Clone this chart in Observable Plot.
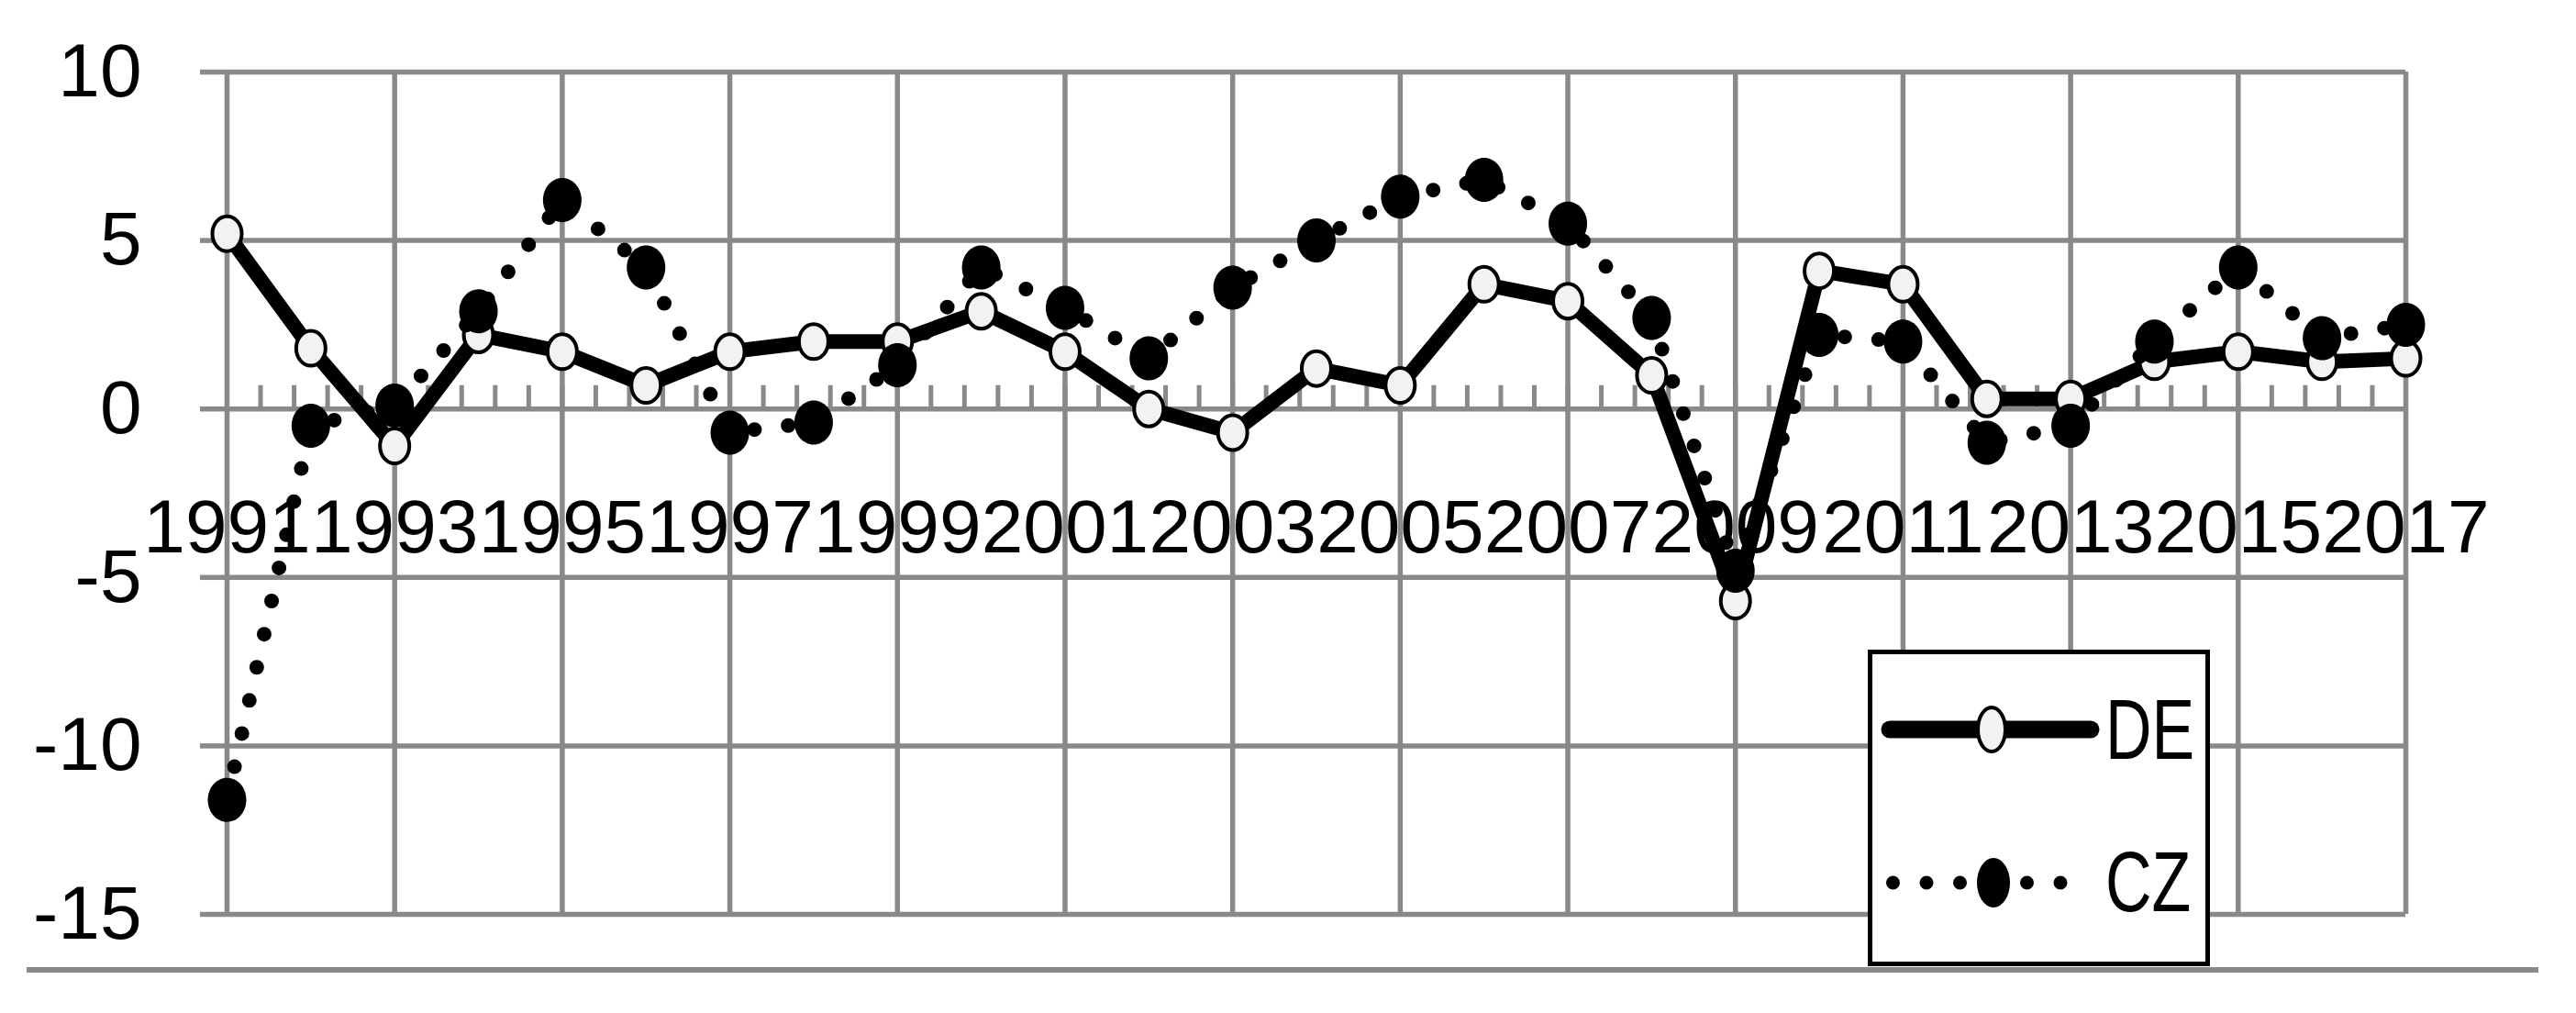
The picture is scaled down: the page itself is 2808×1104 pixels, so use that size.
<!DOCTYPE html>
<html>
<head>
<meta charset="utf-8">
<script src="https://cdn.jsdelivr.net/npm/d3@7"></script>
<script src="https://cdn.jsdelivr.net/npm/@observablehq/plot@0.6"></script>
<style>
  html, body { margin: 0; padding: 0; background: #fff; }
  #wrap { position: relative; width: 2808px; height: 1104px; overflow: hidden; font-family: "Liberation Sans", Arial, sans-serif; }
  #wrap > svg { position: absolute; left: 0; top: 0; }
  #baseline { position: absolute; left: 29px; top: 1054px; width: 2738px; height: 6px; background: #898989; }
  #legend { position: absolute; left: 2036px; top: 708px; width: 363px; height: 335px; border: 5px solid #000; background: #fff; }
  #legend svg { display: block; }
</style>
</head>
<body>
<div id="wrap"><div id="baseline"></div></div>
<script>
// ---- data ----
const years = [1991, 1992, 1993, 1994, 1995, 1996, 1997, 1998, 1999, 2000, 2001, 2002, 2003, 2004,
               2005, 2006, 2007, 2008, 2009, 2010, 2011, 2012, 2013, 2014, 2015, 2016, 2017];
const deValues = [5.2, 1.8, -1.1, 2.2, 1.7, 0.7, 1.7, 2.0, 2.0, 2.9, 1.7, 0.0, -0.7, 1.2,
                  0.7, 3.7, 3.2, 1.0, -5.7, 4.1, 3.7, 0.3, 0.3, 1.4, 1.7, 1.4, 1.5];
const czValues = [-11.6, -0.5, 0.1, 2.9, 6.2, 4.2, -0.7, -0.4, 1.3, 4.2, 3.0, 1.5, 3.6, 5.0,
                  6.3, 6.8, 5.5, 2.7, -4.8, 2.2, 2.0, -1.0, -0.5, 2.0, 4.2, 2.1, 2.5];
const xTickLabels = ["1991", "1993", "1995", "1997", "1999", "2001", "2003", "2005", "2007",
                     "2009", "2011", "2013", "2015", "2017"];
const yTicks = [10, 5, 0, -5, -10, -15];
const seriesNames = ["DE", "CZ"];

// minor tick marks on the category axis (every 0.4 year)
const minorTicks = d3.range(1, 65).map(k => 1991 + k * 0.4);

const deData = years.map((year, i) => ({year, value: deValues[i]}));
const czData = years.map((year, i) => ({year, value: czValues[i]}));

const gray = "#898989";

function ellipseSymbol(rx, ry) {
  const k = 0.5522847498;
  return {
    draw(ctx) {
      ctx.moveTo(rx, 0);
      ctx.bezierCurveTo(rx, ry * k, rx * k, ry, 0, ry);
      ctx.bezierCurveTo(-rx * k, ry, -rx, ry * k, -rx, 0);
      ctx.bezierCurveTo(-rx, -ry * k, -rx * k, -ry, 0, -ry);
      ctx.bezierCurveTo(rx * k, -ry, rx, -ry * k, rx, 0);
      ctx.closePath();
    }
  };
}
const tickSymbol = { draw(ctx) { ctx.moveTo(0, 0); ctx.lineTo(0, -26); } };

const chart = Plot.plot({
  width: 2808,
  height: 1104,
  marginLeft: 247,
  marginRight: 186,
  marginTop: 78,
  marginBottom: 108,
  x: {domain: [1991, 2017], axis: null},
  y: {domain: [-15, 10], axis: null},
  style: {fontFamily: "'Liberation Sans', Arial, sans-serif", background: "transparent", overflow: "visible"},
  marks: [
    Plot.gridY(yTicks, {stroke: gray, strokeOpacity: 1, strokeWidth: 5.5}),
    Plot.gridX(xTickLabels.map(Number), {stroke: gray, strokeOpacity: 1, strokeWidth: 5.5}),
    Plot.axisY(yTicks, {
      anchor: "left", tickSize: 29, tickPadding: 64, stroke: gray, strokeWidth: 5.5,
      fill: "#000", fontSize: 82, tickFormat: d => String(d), label: null
    }),
    Plot.dot(minorTicks, {x: d => d, y: () => 0, symbol: tickSymbol, r: 1, fill: "none", stroke: gray, strokeWidth: 5}),
    Plot.text(xTickLabels, {
      x: d => +d, y: () => 0, text: d => d, dy: 156, lineAnchor: "bottom",
      fontSize: 82, fill: "#000"
    }),
    Plot.line(deData, {x: "year", y: "value", stroke: "#000", strokeWidth: 16, strokeLinejoin: "round"}),
    Plot.dot(deData, {x: "year", y: "value", symbol: ellipseSymbol(16, 19), r: 1, fill: "#f2f2f2", stroke: "#000", strokeWidth: 4}),
    Plot.line(czData, {x: "year", y: "value", stroke: "#000", strokeWidth: 16, strokeDasharray: "0 37", strokeLinecap: "round"}),
    Plot.dot(czData, {x: "year", y: "value", symbol: ellipseSymbol(21, 24), r: 1, fill: "#000", stroke: "none"})
  ]
});

const wrap = document.getElementById("wrap");
wrap.insertBefore(chart, wrap.firstChild);

// ---- legend (inside plot area, bottom right) ----
const legend = document.createElement("div");
legend.id = "legend";
wrap.appendChild(legend);
const lsvg = d3.select(legend).append("svg").attr("width", 363).attr("height", 335);
const rows = [
  {name: seriesNames[0], y: 82, base: 114},
  {name: seriesNames[1], y: 249, base: 280}
];
// DE sample
lsvg.append("line").attr("x1", 19).attr("x2", 238).attr("y1", rows[0].y).attr("y2", rows[0].y)
  .attr("stroke", "#000").attr("stroke-width", 19).attr("stroke-linecap", "round");
lsvg.append("ellipse").attr("cx", 130).attr("cy", rows[0].y).attr("rx", 15).attr("ry", 24)
  .attr("fill", "#f2f2f2").attr("stroke", "#000").attr("stroke-width", 4);
// CZ sample
lsvg.append("line").attr("x1", 22.5).attr("x2", 212).attr("y1", rows[1].y).attr("y2", rows[1].y)
  .attr("stroke", "#000").attr("stroke-width", 15).attr("stroke-dasharray", "0 36.5").attr("stroke-linecap", "round");
lsvg.append("ellipse").attr("cx", 132).attr("cy", rows[1].y).attr("rx", 18).attr("ry", 27)
  .attr("fill", "#000");
rows.forEach(r => {
  lsvg.append("text").attr("transform", `translate(254,${r.base}) scale(1,1.32)`)
    .attr("font-size", 70).attr("font-family", "'Liberation Sans', Arial, sans-serif")
    .attr("fill", "#000").text(r.name);
});
</script>
</body>
</html>
